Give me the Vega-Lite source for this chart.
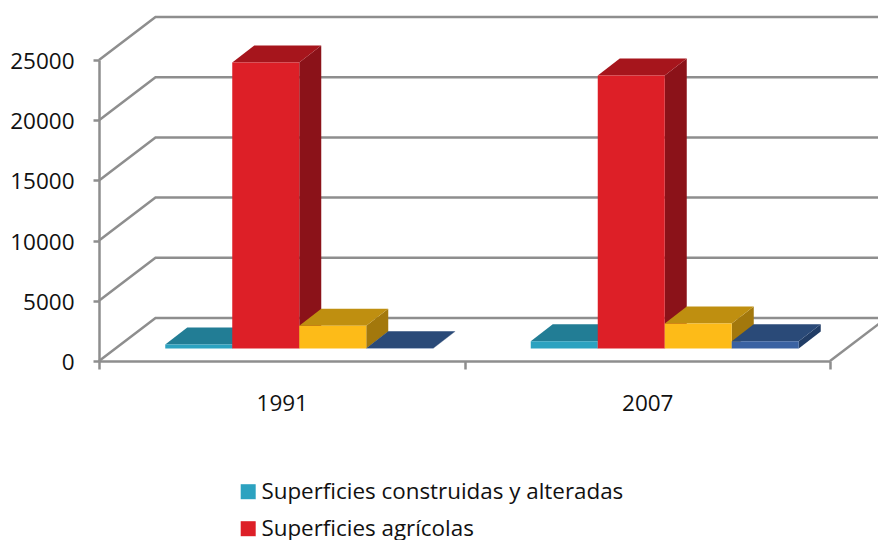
{
"$schema":"https://vega.github.io/schema/vega-lite/v6.json",
"width":778,"height":301,
"autosize":{"type":"none"},
"padding":{"left":99,"top":60,"right":1,"bottom":179},
"background":"white",
"config":{"view":{"stroke":null},"font":"Open Sans"},
"data":{"values":[
{"year":"1991","serie":"Superficies construidas y alteradas","value":330},
{"year":"1991","serie":"Superficies agrícolas","value":23750},
{"year":"1991","serie":"Superficies forestales y seminaturales","value":1880},
{"year":"1991","serie":"Superficies de agua","value":30},
{"year":"2007","serie":"Superficies construidas y alteradas","value":600},
{"year":"2007","serie":"Superficies agrícolas","value":22670},
{"year":"2007","serie":"Superficies forestales y seminaturales","value":2080},
{"year":"2007","serie":"Superficies de agua","value":600}
]},
"transform":[{"calculate":"'M33.5,0L55.5,-17L55.5,'+(datum.value*301/25000-17)+'L33.5,'+(datum.value*301/25000)+'Z'","as":"sideShape"}],
"encoding":{
"x":{"field":"year","type":"nominal","scale":{"domain":["1991","2007"],"range":[0,731],"paddingInner":0,"paddingOuter":0},
"axis":{"title":null,"labelAngle":0,"labelFontSize":22.5,"labelColor":"#111111","labelPadding":23,"tickBand":"extent","tickSize":8,"tickWidth":2.5,"tickColor":"#8E8E8E","domainColor":"#8E8E8E","domainWidth":2.5}},
"xOffset":{"field":"serie","type":"nominal","scale":{"domain":["Superficies construidas y alteradas","Superficies agrícolas","Superficies forestales y seminaturales","Superficies de agua"],"paddingInner":0,"paddingOuter":0.7276,"align":0.6795}},
"y":{"field":"value","type":"quantitative","scale":{"domain":[0,25000],"nice":false},
"axis":{"title":null,"values":[0,5000,10000,15000,20000,25000],"format":"d","labelFontSize":22.5,"labelColor":"#111111","labelPadding":19,"labelOffset":1.5,"tickSize":6,"tickWidth":2.5,"tickColor":"#8E8E8E","domainColor":"#8E8E8E","domainWidth":2.5,"grid":false}}
},
"layer":[
{"data":{"values":[{"tick":0},{"tick":5000},{"tick":10000},{"tick":15000},{"tick":20000},{"tick":25000}]},
 "mark":{"type":"point","filled":false,"opacity":1,"size":4,"stroke":"#8E8E8E","strokeWidth":2.5,"shape":"M0,0L56.5,-43L779,-43"},
 "encoding":{"x":{"datum":"1991","type":"nominal"},"xOffset":{"value":0},"y":{"field":"tick","type":"quantitative"}}},
{"data":{"values":[{"tick":0}]},
 "mark":{"type":"point","filled":false,"opacity":1,"size":4,"stroke":"#8E8E8E","strokeWidth":2.5,"shape":"M365.5,0L422,-43"},
 "encoding":{"x":{"datum":"2007","type":"nominal"},"xOffset":{"value":0},"y":{"field":"tick","type":"quantitative"}}},
{"mark":{"type":"point","filled":true,"opacity":1,"size":4,"strokeWidth":0,"yOffset":-12.5},
 "encoding":{"shape":{"field":"sideShape","type":"nominal","scale":null,"legend":null},
 "color":{"field":"serie","type":"nominal","legend":null,"scale":{"domain":["Superficies construidas y alteradas","Superficies agrícolas","Superficies forestales y seminaturales","Superficies de agua"],"range":["#1C6A80","#8B1219","#A3780C","#213D66"]}}}},
{"mark":{"type":"point","filled":true,"opacity":1,"size":4,"strokeWidth":0,"yOffset":-12.5,"shape":"M-33.5,0L-11.5,-17L55.5,-17L33.5,0Z"},
 "encoding":{"color":{"field":"serie","type":"nominal","legend":null,"scale":{"domain":["Superficies construidas y alteradas","Superficies agrícolas","Superficies forestales y seminaturales","Superficies de agua"],"range":["#227D95","#A6151C","#BF8F10","#2A4A78"]}}}},
{"mark":{"type":"bar","width":67,"yOffset":-12.5,"y2Offset":-12.5},
 "encoding":{"color":{"field":"serie","type":"nominal","scale":{"domain":["Superficies construidas y alteradas","Superficies agrícolas","Superficies forestales y seminaturales","Superficies de agua"],"range":["#2CA2C0","#DD1F27","#FDBB18","#3A62A2"]},
 "legend":{"title":null,"orient":"none","legendX":138,"legendY":420.5,"columns":1,"symbolType":"square","symbolSize":225,"symbolStrokeWidth":0,"labelFontSize":22.4,"labelColor":"#111111","labelLimit":600,"rowPadding":14,"symbolOffset":0,"labelOffset":2}}}}
],
"resolve":{"scale":{"color":"independent"}}
}
